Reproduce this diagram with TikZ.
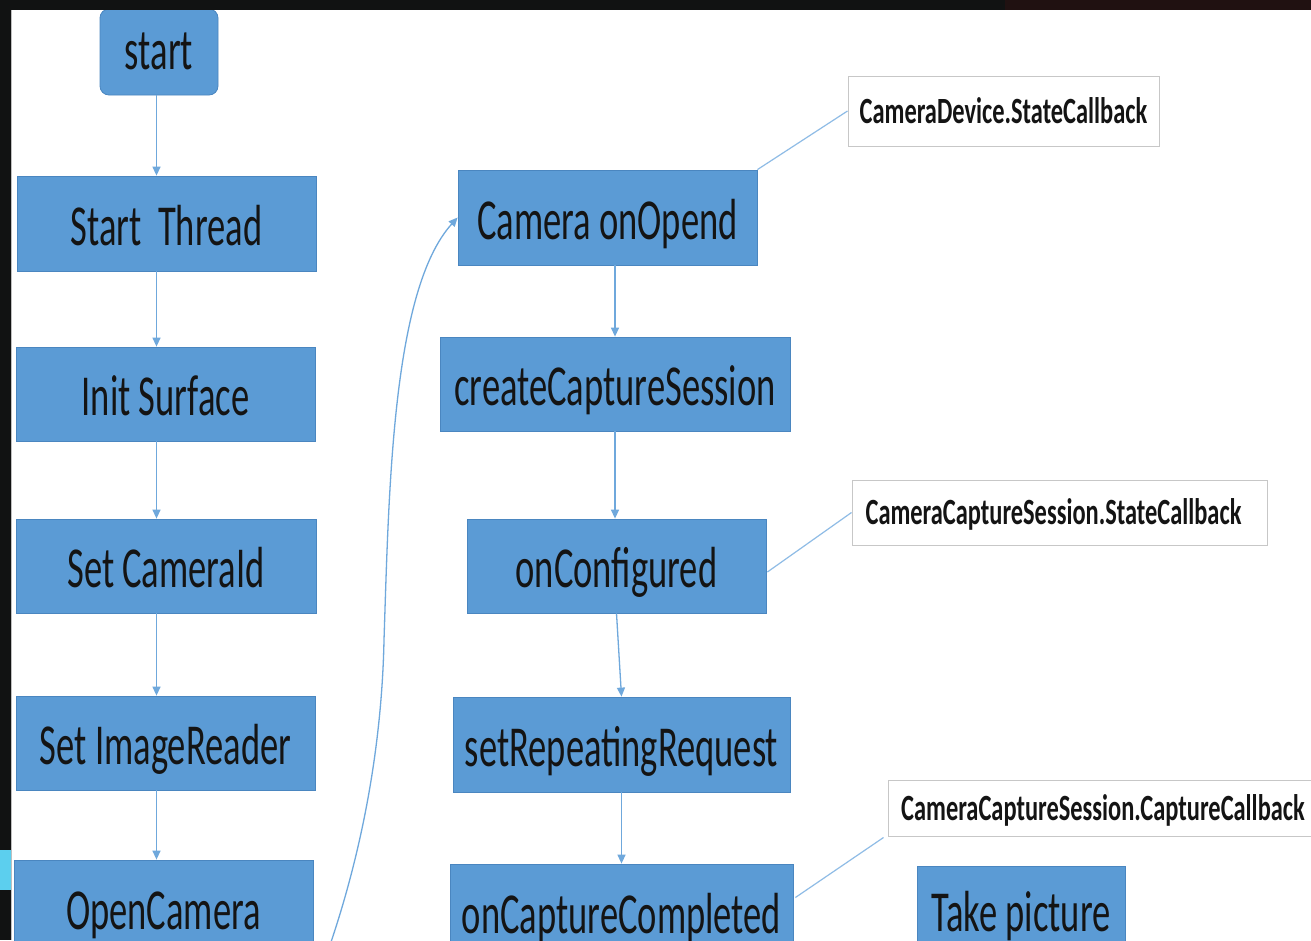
\documentclass[tikz,border=0pt]{standalone}
\usepackage{fontspec}
\setmainfont{Carlito}
\usetikzlibrary{arrows.meta,calc}
\definecolor{boxblue}{HTML}{5B9BD5}
\definecolor{boxedge}{HTML}{4A86C0}
\definecolor{flow}{HTML}{6FA8DC}
\definecolor{tie}{HTML}{8FBCE6}
\definecolor{frame}{HTML}{111212}
\definecolor{frameright}{HTML}{201111}
\definecolor{patch}{HTML}{5CCFEE}
% condensed lettering used throughout the chart
\newcommand\squish[1]{\scalebox{0.63}[1]{#1}}
\newcommand\squishnote[1]{\scalebox{0.66}[1]{#1}}
\begin{document}
\begin{tikzpicture}[x=1pt,y=-1pt,
  stepbox/.style={draw=boxedge, fill=boxblue, line width=0.8pt, inner sep=0pt,
    text=black!92, font=\fontsize{58}{60}\selectfont, text height=48pt, text depth=5pt},
  note/.style={draw=black!22, fill=white, line width=1pt, inner sep=0pt,
    text=black!92, font=\bfseries\fontsize{37}{39}\selectfont, text height=26pt, text depth=2pt},
  arr/.style={draw=flow, line width=1.3pt, -{Triangle[width=8pt,length=9pt]}},
  tieline/.style={draw=tie, line width=1.2pt}]
\useasboundingbox (0,0) rectangle (1311,940);
\fill[white] (0,0) rectangle (1311,940);

% left column: setup steps
\node[stepbox, rounded corners=9pt, minimum width=118pt, minimum height=86pt, text height=40pt, text depth=6pt] (start) at (159,52) {\squish{start}};
\node[stepbox, minimum width=299pt, minimum height=95pt] (thread) at (166.5,223.5) {\squish{Start\ \ Thread}};
\node[stepbox, minimum width=299pt, minimum height=94pt] (surface) at (165.5,394) {\squish{Init Surface}};
\node[stepbox, minimum width=300pt, minimum height=94pt] (camid) at (166,566) {\squish{Set CameraId}};
\node[stepbox, minimum width=299pt, minimum height=94pt] (reader) at (165.5,743) {\squish{Set ImageReader}};
\node[stepbox, minimum width=299pt, minimum height=95pt] (open) at (163.5,907.5) {\squish{OpenCamera}};

% right column: callbacks
\node[stepbox, minimum width=299pt, minimum height=95pt] (opened) at (607.5,217.5) {\squish{Camera onOpend}};
\node[stepbox, minimum width=350pt, minimum height=94pt] (session) at (615,384) {\squish{createCaptureSession}};
\node[stepbox, minimum width=299pt, minimum height=94pt] (configured) at (616.5,566) {\squish{onConfigured}};
\node[stepbox, minimum width=337pt, minimum height=95pt] (repeating) at (621.5,744.5) {\squish{setRepeatingRequest}};
\node[stepbox, minimum width=343pt, minimum height=95pt] (completed) at (621.5,911.5) {\squish{onCaptureCompleted}};
\node[stepbox, minimum width=208pt, minimum height=95pt, text height=44pt, text depth=9pt] (take) at (1021,913.5) {\squish{Take picture}};

% callback interface notes
\node[note, minimum width=311pt, minimum height=70pt] (cb1) at (1003.5,111) {\squishnote{CameraDevice.StateCallback}};
\node[note, minimum width=415pt, minimum height=65pt] (cb2) at (1059.5,512.5) {\squishnote{CameraCaptureSession.StateCallback}\hspace*{12pt}};
\node[note, minimum width=442pt, minimum height=56pt] (cb3) at (1109,808) {\squishnote{CameraCaptureSession.CaptureCallback}\hspace*{12pt}};

% flow arrows
\coordinate (lane) at (156.5,0);
\coordinate (rlane) at (615,0);
\draw[arr] (start.south -| lane) -- (thread.north -| lane);
\draw[arr] (thread.south -| lane) -- (surface.north -| lane);
\draw[arr] (surface.south -| lane) -- (camid.north -| lane);
\draw[arr] (camid.south -| lane) -- (reader.north -| lane);
\draw[arr] (reader.south -| lane) -- (open.north -| lane);
\draw[arr] (opened.south -| rlane) -- (session.north -| rlane);
\draw[arr] (session.south -| rlane) -- (configured.north -| rlane);
\draw[arr] (configured.south) -- (repeating.north);
\draw[arr] (repeating.south) -- (completed.north);

% OpenCamera hands over to the device callback
\coordinate (tail) at (330,945);
\draw[arr] (tail) .. controls (364,845) and (382,740) .. (384,640)
  .. controls (389,490) and (392,290) .. (opened.west);

% ties to the callback notes
\draw[tieline] (opened.north east) -- (cb1.west);
\draw[tieline] ($(configured.east)+(1,6)$) -- (cb2.west);
\draw[tieline] ($(completed.east)+(2,-14)$) -- ($(cb3.south west)+(-4,1)$);

% dark surround
\fill[frame] (0,0) rectangle (1311,10);
\fill[frameright] (1005,0) rectangle (1311,10);
\fill[frame] (0,0) rectangle (11,940);
\fill[patch] (0,850) rectangle (11,890);
\draw[black!25, line width=1pt] (11.5,10) -- (11.5,940);
\end{tikzpicture}
\end{document}
